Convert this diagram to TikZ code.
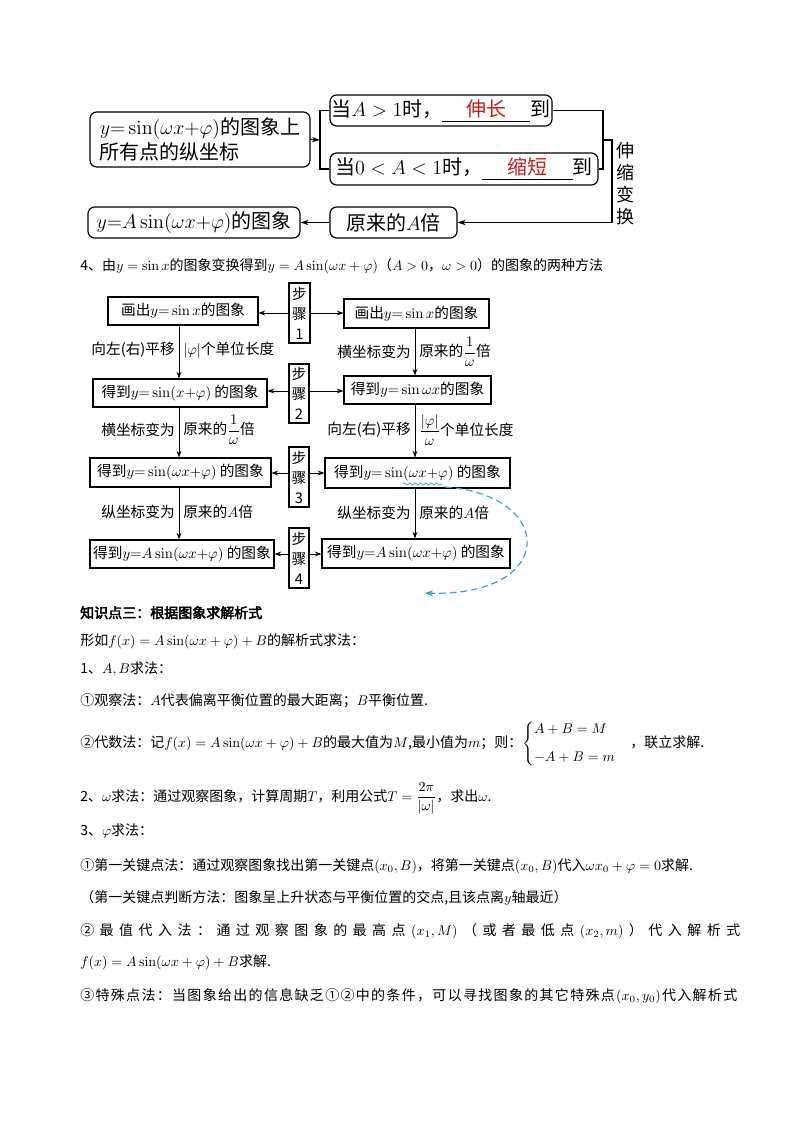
\RequirePackage{fix-cm}
\documentclass[tikz,border=0pt]{standalone}
\usepackage{amsmath}
\usepackage[no-math]{fontspec}
\setmainfont{Noto Sans CJK SC}
\newfontfamily\cjkbold{Noto Sans CJK SC}[FakeBold=3]
\usetikzlibrary{arrows.meta,decorations.pathmorphing}
\definecolor{redc}{RGB}{200,30,30}
\definecolor{bluec}{RGB}{60,165,205}
\newcommand\myTop{\fontsize{15}{18.75}\selectfont}
\newcommand\myVert{\fontsize{13.5}{16.5}\selectfont}
\newcommand\myMid{\fontsize{11}{14}\selectfont}
\newcommand\myStep{\fontsize{11}{15}\selectfont}
\newcommand\myTxt{\fontsize{10.5}{13}\selectfont}
\newcommand\myBlank[2]{\rlap{\rule[-4pt]{#1}{0.7pt}}\makebox[#1]{\textcolor{redc}{#2}}}
\ExplSyntaxOn
\NewDocumentCommand\spreadline{mm}{\hbox~to~#1{\tl_map_inline:nn{#2}{##1\hfil}\unskip}}
\ExplSyntaxOff
\begin{document}
\begin{tikzpicture}[x=0.75pt,y=-0.75pt,
  rbox/.style={draw, rounded corners=5pt, line width=0.9pt, inner sep=0pt},
  sbox/.style={draw, line width=0.8pt, inner sep=0pt, font=\myMid},
  sz/.style 2 args={minimum width={#1*0.75pt}, minimum height={#2*0.75pt}},
  arr/.style={-{Stealth[length=5pt,width=3.6pt]}, line width=0.7pt},
  tarr/.style={-{Stealth[length=6pt,width=4pt]}, line width=0.9pt},
  ln/.style={line width=0.9pt},
  lab/.style={inner sep=0pt, font=\myMid},
  txt/.style={anchor=base west, inner sep=0pt, font=\myTxt},
]
\fill[white] (0,0) rectangle (794,1123);
\useasboundingbox (0,0) rectangle (794,1123);

% ---------- top diagram ----------
\node[rbox, sz={220}{55}, align=left, font=\myTop] (A) at (200,139.5) {$y{=}\sin(\omega x{+}\varphi)$的图象上\\所有点的纵坐标};
\node[rbox, sz={222}{31}, font=\myTop] (B1) at (441,110.5) {当$A>1$时，\myBlank{66pt}{伸长}到};
\node[rbox, sz={268}{32}, font=\myTop] (B2) at (464,169) {当$0<A<1$时，\myBlank{68pt}{缩短}到};
\node[rbox, sz={127}{31}, font=\myTop] (C1) at (393.5,222.5) {原来的$A$倍};
\node[rbox, sz={212}{31}, font=\myTop] (C0) at (194,222.5) {$y{=}A\sin(\omega x{+}\varphi)$的图象};
\node[inner sep=0pt, font=\myVert, align=center] (V) at (625,184) {伸\\缩\\变\\换};

\coordinate (bl) at (320,140);
\coordinate (br) at (603,140);
\coordinate (bt) at (612,140);
\draw[tarr] (A.east) -- (bl);
\draw[ln] (B1.west) -| (bl) |- (B2.west);
\draw[ln] (B1.east) -| (br) |- (B2.east);
\draw[tarr] (br) -- (bt) |- (C1.east);
\draw[tarr] (C1.west) -- (C0.east);

% ---------- heading 4 ----------
\node[txt] (t0) at (80,270) {4、由$y=\sin x$的图象变换得到$y=A\sin(\omega x+\varphi)$（$A>0$，$\omega>0$）的图象的两种方法};

% ---------- middle diagram ----------
\node[sbox, sz={150}{28}] (L1) at (183,311) {画出$y{=}\sin x$的图象};
\node[sbox, sz={174}{28}] (L2) at (180,393) {得到$y{=}\sin(x{+}\varphi)$\ 的图象};
\node[sbox, sz={181}{29}] (L3) at (180.5,472.5) {得到$y{=}\sin(\omega x{+}\varphi)$\ 的图象};
\node[sbox, sz={184}{28}] (L4) at (182,554) {得到$y{=}A\sin(\omega x{+}\varphi)$\ 的图象};
\node[sbox, sz={145}{29}] (R1) at (416.5,313.5) {画出$y{=}\sin x$的图象};
\node[sbox, sz={147}{28}] (R2) at (417.5,390) {得到$y{=}\sin\omega x$的图象};
\node[sbox, sz={185}{30}] (R3) at (417.5,473) {得到$y{=}\sin(\omega x{+}\varphi)$\ 的图象};
\node[sbox, sz={188}{29}] (R4) at (416,553.5) {得到$y{=}A\sin(\omega x{+}\varphi)$\ 的图象};

\node[sbox, font=\myStep, align=center, sz={21}{60}] (S1) at (299.5,313) {步\\骤\\1};
\node[sbox, font=\myStep, align=center, sz={20}{59}] (S2) at (299,393.5) {步\\骤\\2};
\node[sbox, font=\myStep, align=center, sz={20}{60}] (S3) at (299,477) {步\\骤\\3};
\node[sbox, font=\myStep, align=center, sz={20}{60}] (S4) at (299,558) {步\\骤\\4};

\coordinate (y1) at (0,313);
\coordinate (y2) at (0,391);
\coordinate (y3) at (0,473);
\coordinate (y4) at (0,554);
\draw[arr] (S1.west |- y1) -- (L1.east |- y1);
\draw[arr] (S1.east |- y1) -- (R1.west |- y1);
\draw[arr] (S2.west |- y2) -- (L2.east |- y2);
\draw[arr] (S2.east |- y2) -- (R2.west |- y2);
\draw[arr] (S3.west |- y3) -- (L3.east |- y3);
\draw[arr] (S3.east |- y3) -- (R3.west |- y3);
\draw[arr] (S4.west |- y4) -- (L4.east |- y4);
\draw[arr] (S4.east |- y4) -- (R4.west |- y4);

\coordinate (lx) at (179,0);
\coordinate (rx) at (415,0);
\draw[arr] (L1.south -| lx) -- (L2.north -| lx);
\draw[arr] (L2.south -| lx) -- (L3.north -| lx);
\draw[arr] (L3.south -| lx) -- (L4.north -| lx);
\draw[arr] (R1.south -| rx) -- (R2.north -| rx);
\draw[arr] (R2.south -| rx) -- (R3.north -| rx);
\draw[arr] (R3.south -| rx) -- (R4.north -| rx);

\node[lab, anchor=east] (l1a) at (175,350) {向左(右)平移};
\node[lab, anchor=west] (l1b) at (183,350) {$|\varphi|$个单位长度};
\node[lab, anchor=east] (l2a) at (175,430) {横坐标变为};
\node[lab, anchor=west] (l2b) at (183,430) {原来的$\dfrac{1}{\omega}$倍};
\node[lab, anchor=east] (l3a) at (175,512) {纵坐标变为};
\node[lab, anchor=west] (l3b) at (183,512) {原来的$A$倍};
\node[lab, anchor=east] (r1a) at (411,352) {横坐标变为};
\node[lab, anchor=west] (r1b) at (419,352) {原来的$\dfrac{1}{\omega}$倍};
\node[lab, anchor=east] (r2a) at (411,430) {向左(右)平移};
\node[lab, anchor=west] (r2b) at (419,430) {$\dfrac{|\varphi|}{\omega}$个单位长度};
\node[lab, anchor=east] (r3a) at (411,513) {纵坐标变为};
\node[lab, anchor=west] (r3b) at (419,513) {原来的$A$倍};

\coordinate (wa) at (403,484);
\coordinate (wb) at (443,484);
\draw[bluec, line width=0.6pt, decorate, decoration={snake, amplitude=0.8pt, segment length=4pt}] (wa) -- (wb);
\coordinate (cs) at (445,487);
\coordinate (ce) at (425,593);
\draw[bluec, line width=0.9pt, dash pattern=on 5pt off 3pt, -{Stealth[length=6pt,width=4.5pt]}] (cs) .. controls (557,495) and (557,597) .. (ce);

% ---------- text section ----------
\node[txt, font=\myTxt\cjkbold] (h3) at (80,618) {知识点三：根据图象求解析式};
\node[txt] (t1) at (80,645) {形如$f(x)=A\sin(\omega x+\varphi)+B$的解析式求法：};
\node[txt] (t2) at (80,673) {1、$A,B$求法：};
\node[txt] (t3) at (80,705) {①观察法：$A$代表偏离平衡位置的最大距离；$B$平衡位置.};
\node[txt] (t4) at (80,747) {②代数法：记$f(x)=A\sin(\omega x+\varphi)+B$的最大值为$M$,最小值为$m$；则：$\begin{cases}A+B=M\\[5pt]-A+B=m\end{cases}$，联立求解.};
\node[txt] (t5) at (80,801) {2、$\omega$求法：通过观察图象，计算周期$T$，利用公式$T=\dfrac{2\pi}{|\omega|}$，求出$\omega$.};
\node[txt] (t6) at (80,835) {3、$\varphi$求法：};
\node[txt] (t7) at (80,870) {①第一关键点法：通过观察图象找出第一关键点$(x_0,B)$，将第一关键点$(x_0,B)$代入$\omega x_0+\varphi=0$求解.};
\node[txt] (t8) at (80,902) {（第一关键点判断方法：图象呈上升状态与平衡位置的交点,且该点离$y$轴最近）};
\node[txt] (t9) at (80,935) {\spreadline{495pt}{②最值代入法：通过观察图象的最高点{$(x_1,M)$}（或者最低点{$(x_2,m)$}）代入解析式}};
\node[txt] (t10) at (80,966) {$f(x)=A\sin(\omega x+\varphi)+B$求解.};
\node[txt] (t11) at (80,1000) {\spreadline{492.75pt}{③特殊点法：当图象给出的信息缺乏①②中的条件，可以寻找图象的其它特殊点{$(x_0,y_0)$}代入解析式}};
\end{tikzpicture}
\end{document}
